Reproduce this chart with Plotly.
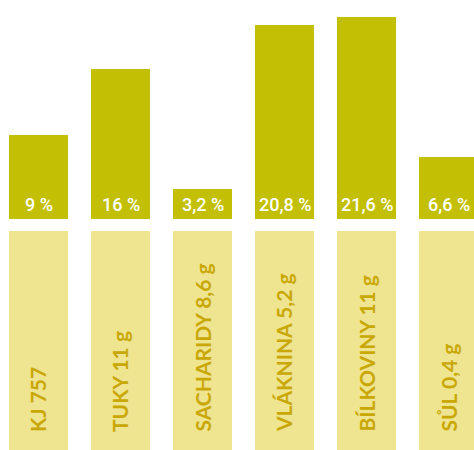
import plotly.graph_objects as go

categories = ["KJ 757", "TUKY 11 g", "SACHARIDY 8,6 g", "VLÁKNINA 5,2 g", "BÍLKOVINY 11 g", "SŮL 0,4 g"]
percent_values = [9, 16, 3.2, 20.8, 21.6, 6.6]
percent_labels = ["9 %", "16 %", "3,2 %", "20,8 %", "21,6 %", "6,6 %"]
label_bar_values = [1, 1, 1, 1, 1, 1]

TOP_COLOR = "#c2bf04"
LOW_COLOR = "#efe48f"
LOW_TEXT = "#c9a806"

W, H = 474, 450
x = list(range(len(categories)))

fig = go.Figure()
fig.add_trace(go.Bar(
    x=x, y=percent_values, marker=dict(color=TOP_COLOR, line=dict(width=0)),
    width=59 / 82, xaxis="x", yaxis="y", hoverinfo="skip", showlegend=False,
))
fig.add_trace(go.Bar(
    x=x, y=label_bar_values, marker=dict(color=LOW_COLOR, line=dict(width=0)),
    width=59 / 82, xaxis="x2", yaxis="y2", hoverinfo="skip", showlegend=False,
))

annotations = []
for i, t in enumerate(percent_labels):
    annotations.append(dict(
        x=i, y=0, xref="x", yref="y", text=t, showarrow=False,
        xanchor="center", yanchor="bottom", yshift=2,
        font=dict(family="Roboto, sans-serif", size=18, color="white", weight=500),
    ))
for i, t in enumerate(categories):
    annotations.append(dict(
        x=i, y=0, xref="x2", yref="y2", text=t, showarrow=False, textangle=-90,
        xanchor="center", yanchor="bottom", yshift=16, xshift=-1,
        font=dict(family="Lato, Open Sans, sans-serif", size=21, color=LOW_TEXT, weight=700),
    ))

a = -38.5 / 82
xr = [a, a + W / 82]
fig.update_layout(
    width=W, height=H,
    margin=dict(l=0, r=0, t=0, b=0),
    paper_bgcolor="white", plot_bgcolor="white",
    bargap=0,
    xaxis=dict(range=xr, visible=False, domain=[0, 1], anchor="y"),
    xaxis2=dict(range=xr, visible=False, domain=[0, 1], anchor="y2"),
    yaxis=dict(range=[0, 219 / 9.35], visible=False, domain=[(H - 219) / H, 1]),
    yaxis2=dict(range=[0, 1], visible=False, domain=[0, (H - 231) / H]),
    annotations=annotations,
)

fig.write_html(
    "out.html",
    config={"displayModeBar": False, "staticPlot": True},
    post_script="document.body.style.margin='0';document.body.style.overflow='hidden';",
)
